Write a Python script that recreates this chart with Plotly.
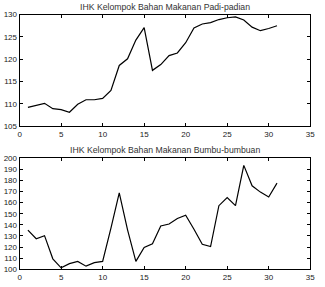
import plotly.graph_objects as go

x = list(range(1, 32))
padi = [109.2, 109.6, 110.1, 108.9, 108.7, 108.1, 109.9, 110.9, 110.9, 111.2,
        113.0, 118.6, 120.1, 124.3, 127.1, 117.5, 118.8, 120.8, 121.4, 123.7,
        127.0, 127.9, 128.2, 128.9, 129.3, 129.5, 128.8, 127.2, 126.4, 126.9, 127.5]
bumbu = [135.3, 127.5, 130.3, 109.5, 101.4, 105.2, 107.2, 102.9, 106.1, 107.2,
         137.0, 168.8, 135.5, 107.2, 119.7, 123.1, 139.0, 140.8, 145.7, 148.6,
         136.1, 122.5, 120.5, 157.2, 164.5, 157.2, 193.4, 175.1, 169.4, 165.0, 177.5]
title1 = "IHK Kelompok Bahan Makanan Padi-padian"
title2 = "IHK Kelompok Bahan Makanan Bumbu-bumbuan"

W, H = 325, 287
fig = go.Figure()
fig.add_trace(go.Scatter(x=x, y=padi, mode="lines", line=dict(color="black", width=1.2),
                         xaxis="x", yaxis="y", showlegend=False))
fig.add_trace(go.Scatter(x=x, y=bumbu, mode="lines", line=dict(color="black", width=1.2),
                         xaxis="x2", yaxis="y2", showlegend=False))

font = dict(family="Liberation Sans, Arial", size=8, color="#222")
tfont = dict(family="Liberation Sans, Arial", size=8.7, color="#333")
xd = [18 / W, 315 / W]
ax_common = dict(showline=True, linecolor="black", linewidth=1, mirror="ticks",
                 ticks="inside", ticklen=3, tickcolor="black", showgrid=False,
                 zeroline=False, tickfont=font)
fig.update_layout(
    width=W, height=H, margin=dict(l=0, r=0, t=0, b=0),
    paper_bgcolor="white", plot_bgcolor="white",
    xaxis=dict(domain=xd, range=[0, 35], dtick=5, anchor="y", **ax_common),
    yaxis=dict(domain=[1 - 126 / H, 1 - 11 / H], range=[105, 130], dtick=5, anchor="x", **ax_common),
    xaxis2=dict(domain=xd, range=[0, 35], dtick=5, anchor="y2", **ax_common),
    yaxis2=dict(domain=[1 - 274 / H, 1 - 159 / H], range=[100, 200], dtick=10, anchor="x2", **ax_common),
    annotations=[
        dict(text=title1, x=(xd[0] + xd[1]) / 2, y=1 - 11 / H, xref="paper", yref="paper",
             xanchor="center", yanchor="bottom", showarrow=False, font=tfont, yshift=1),
        dict(text=title2, x=(xd[0] + xd[1]) / 2, y=1 - 159 / H, xref="paper", yref="paper",
             xanchor="center", yanchor="bottom", showarrow=False, font=tfont, yshift=1),
    ],
)
fig.write_html("out.html")
